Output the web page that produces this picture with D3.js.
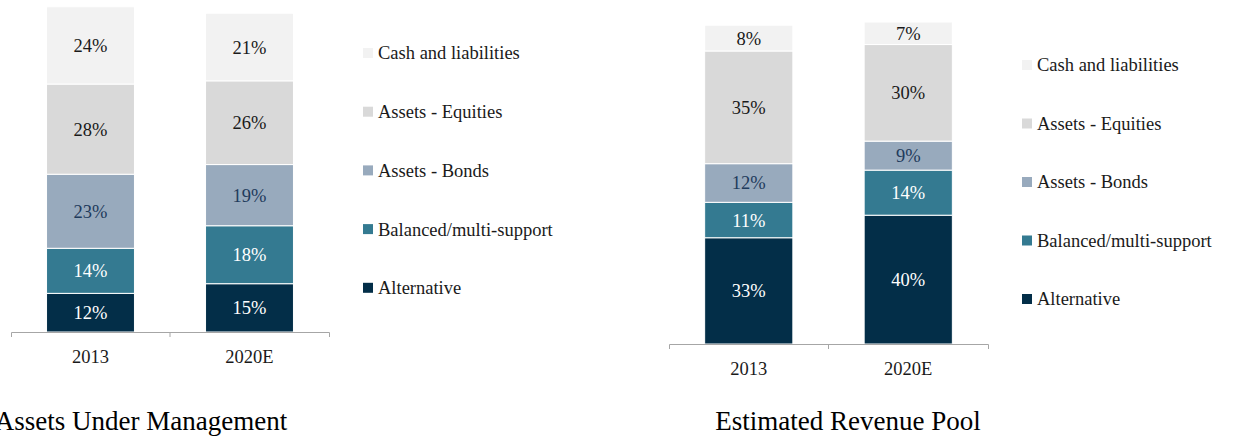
<!DOCTYPE html>
<html>
<head>
<meta charset="utf-8">
<script src="https://cdn.jsdelivr.net/npm/d3@7"></script>
<style>
  html, body { margin: 0; padding: 0; background: #ffffff; }
  svg { display: block; }
  text { font-family: "Liberation Serif", "Times New Roman", serif; }
</style>
</head>
<body>
<svg id="chart" width="1242" height="438"></svg>
<script>
// Categories and series (stack order: bottom to top)
const categories = ["2013", "2020E"];
const seriesNames = ["Alternative", "Balanced/multi-support", "Assets - Bonds", "Assets - Equities", "Cash and liabilities"];
const seriesColors = ["#032e48", "#347a91", "#98aabd", "#d9d9d9", "#f2f2f2"];
const labelColors = ["#ffffff", "#ffffff", "#1f3b5c", "#1a1a1a", "#1a1a1a"];

// Assets under management share (%), per series, per category
const aumAlternative = [12, 15];
const aumBalanced = [14, 18];
const aumBonds = [23, 19];
const aumEquities = [28, 26];
const aumCash = [24, 21];

// Revenue pool share (%), per series, per category
const revAlternative = [33, 40];
const revBalanced = [11, 14];
const revBonds = [12, 9];
const revEquities = [35, 30];
const revCash = [8, 7];

const chartTitles = ["Assets Under Management", "Estimated Revenue Pool"];

const svg = d3.select("#chart");

function buildRows(seriesArrays) {
  return categories.map((c, i) => {
    const row = { category: c };
    seriesNames.forEach((s, k) => { row[s] = seriesArrays[k][i]; });
    return row;
  });
}

function drawPanel(cfg) {
  const g = svg.append("g");
  const rows = buildRows(cfg.series);

  const x = d3.scaleBand().domain(categories).range([cfg.x0, cfg.x1]).padding(0);
  const y = d3.scaleLinear().domain([0, 100]).range([cfg.axisY, cfg.axisY - 322]);
  const barW = x.bandwidth() * 0.553;

  const stacked = d3.stack().keys(seriesNames)(rows);

  stacked.forEach((layer, k) => {
    const lg = g.append("g");
    lg.selectAll("rect")
      .data(layer)
      .join("rect")
      .attr("x", d => x(d.data.category) + (x.bandwidth() - barW) / 2)
      .attr("width", barW)
      .attr("y", d => y(d[1]))
      .attr("height", d => y(d[0]) - y(d[1]))
      .attr("fill", seriesColors[k])
      .attr("stroke", "#ffffff")
      .attr("stroke-width", 1);

    lg.selectAll("text")
      .data(layer)
      .join("text")
      .attr("x", d => x(d.data.category) + x.bandwidth() / 2)
      .attr("y", d => (y(d[0]) + y(d[1])) / 2)
      .attr("dy", "0.35em")
      .attr("text-anchor", "middle")
      .attr("font-size", 18.5)
      .attr("fill", labelColors[k])
      .text(d => (d[1] - d[0]) + "%");
  });

  // Category axis
  const axis = d3.axisBottom(x).tickSizeInner(0).tickSizeOuter(5).tickPadding(18);
  const ag = g.append("g").attr("transform", `translate(0,${cfg.axisY})`).call(axis);
  ag.select(".domain").attr("stroke", "#a6a6a6");
  ag.selectAll(".tick line").remove();
  ag.selectAll(".tick text")
    .attr("font-family", "Liberation Serif, serif")
    .attr("font-size", 18.5)
    .attr("fill", "#1a1a1a");
  // divider tick between the two categories
  categories.slice(1).forEach(c => {
    ag.append("line")
      .attr("x1", x(c)).attr("x2", x(c))
      .attr("y1", 0).attr("y2", 5)
      .attr("stroke", "#a6a6a6");
  });

  // Legend (top to bottom: reverse of stack order)
  const legendItems = seriesNames.map((s, k) => ({ name: s, color: seriesColors[k] })).reverse();
  const leg = g.append("g");
  legendItems.forEach((it, i) => {
    const cy = cfg.legendY + i * cfg.legendStep;
    leg.append("rect")
      .attr("x", cfg.legendX).attr("y", cy - 5)
      .attr("width", 10).attr("height", 10)
      .attr("fill", it.color);
    leg.append("text")
      .attr("x", cfg.legendX + 15).attr("y", cy)
      .attr("dy", "0.35em")
      .attr("font-size", 18.5)
      .attr("fill", "#1a1a1a")
      .text(it.name);
  });

  // Panel title
  g.append("text")
    .attr("x", cfg.titleX).attr("y", cfg.titleY)
    .attr("text-anchor", "middle")
    .attr("font-size", 27)
    .attr("fill", "#000000")
    .text(cfg.title);
}

drawPanel({
  series: [aumAlternative, aumBalanced, aumBonds, aumEquities, aumCash],
  x0: 11, x1: 329, axisY: 332,
  legendX: 363, legendY: 53, legendStep: 58.7,
  title: chartTitles[0], titleX: 141, titleY: 430
});

drawPanel({
  series: [revAlternative, revBalanced, revBonds, revEquities, revCash],
  x0: 669, x1: 988, axisY: 344,
  legendX: 1022, legendY: 65, legendStep: 58.5,
  title: chartTitles[1], titleX: 848, titleY: 430
});
</script>
</body>
</html>
